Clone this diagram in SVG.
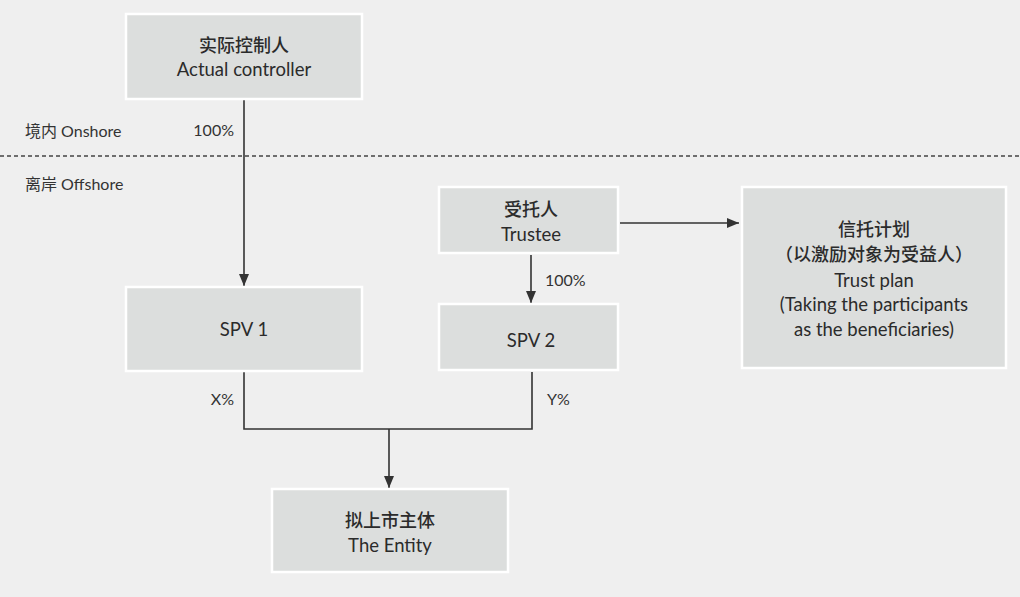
<svg xmlns="http://www.w3.org/2000/svg" width="1020" height="597" viewBox="0 0 1020 597">
<defs>
<style>
.box{fill:#dcdedd;stroke:#ffffff;stroke-width:2.5}
.t{font-family:Lato,"Noto Sans","Noto Sans CJK SC",sans-serif;font-size:18.5px;fill:#2b2b2b;text-anchor:middle}
.c{font-weight:500;font-size:18px}
.l{font-family:Lato,"Noto Sans","Noto Sans CJK SC",sans-serif;font-size:16px;fill:#333}
.ln{stroke:#333;stroke-width:1.6;fill:none}
</style>
<marker id="a" viewBox="0 0 12 10" refX="12" refY="5" markerWidth="12" markerHeight="10" markerUnits="userSpaceOnUse" orient="auto">
<path d="M0,0 L12,5 L0,10 z" fill="#333"/>
</marker>
</defs>
<rect width="1020" height="597" fill="#efefef"/>
<line x1="0" y1="156" x2="1020" y2="156" stroke="#444" stroke-width="1.3" stroke-dasharray="4,3"/>
<text class="l" x="25" y="137">境内 Onshore</text>
<text class="l" x="25" y="190">离岸 Offshore</text>
<g id="connectors">
<line class="ln" x1="244" y1="100" x2="244" y2="286" marker-end="url(#a)"/>
<line class="ln" x1="620" y1="223" x2="739" y2="223" marker-end="url(#a)"/>
<line class="ln" x1="531" y1="255" x2="531" y2="303" marker-end="url(#a)"/>
<polyline class="ln" points="244,372 244,429 532,429 532,372"/>
<line class="ln" x1="389" y1="429" x2="389" y2="488" marker-end="url(#a)"/>
<text class="l" x="234" y="136" text-anchor="end">100%</text>
<text class="l" x="545" y="286">100%</text>
<text class="l" x="234" y="405" text-anchor="end">X%</text>
<text class="l" x="547" y="405">Y%</text>
</g>
<g id="actual-controller">
<rect class="box" x="126" y="14" width="236" height="85"/>
<text class="t c" x="244" y="52">实际控制人</text>
<text class="t" x="244" y="76">Actual controller</text>
</g>
<g id="spv1">
<rect class="box" x="126" y="287" width="236" height="84"/>
<text class="t" x="244" y="336">SPV 1</text>
</g>
<g id="trustee">
<rect class="box" x="439" y="187" width="179" height="66"/>
<text class="t c" x="531" y="216">受托人</text>
<text class="t" x="531" y="241">Trustee</text>
</g>
<g id="spv2">
<rect class="box" x="439" y="304" width="179" height="66"/>
<text class="t" x="531" y="347">SPV 2</text>
</g>
<g id="trust-plan">
<rect class="box" x="742" y="187" width="264" height="181"/>
<text class="t c" x="874" y="236">信托计划</text>
<text class="t c" x="874" y="261">（以激励对象为受益人）</text>
<text class="t" x="874" y="287">Trust plan</text>
<text class="t" x="874" y="311">(Taking the participants</text>
<text class="t" x="874" y="336">as the beneficiaries)</text>
</g>
<g id="entity">
<rect class="box" x="272" y="489" width="236" height="83"/>
<text class="t c" x="390" y="527">拟上市主体</text>
<text class="t" x="390" y="552">The Entity</text>
</g>
</svg>
